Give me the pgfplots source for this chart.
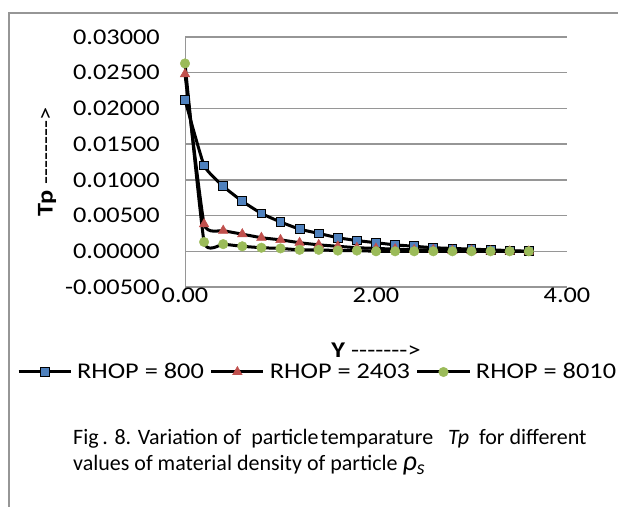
\documentclass[border=0pt]{standalone}
\usepackage{fontspec}
\setmainfont{Carlito}
\newfontfamily\chartfont{Carlito}[FakeStretch=1.17]
\usepackage{pgfplots}
\pgfplotsset{compat=1.18}

\definecolor{rhopblue}{RGB}{79,129,189}
\definecolor{rhopred}{RGB}{192,80,77}
\definecolor{rhopgreen}{RGB}{155,187,89}
\definecolor{gridgray}{RGB}{150,150,150}
\definecolor{framegray}{RGB}{150,150,150}

% typed arrows made of single hyphens (kerns keep them from becoming dashes)
\newcommand\hy{-\kern0pt}
\newcommand\yarrow{\hy\hy\hy\hy\hy\hy\hy>}
\newcommand\tparrow{\hy\hy\hy\hy\hy\hy\hy\hy>}

% Tp along Y for three particle densities
\pgfplotstableread{
Y     r800    r2403   r8010
0.0   0.0212  0.0248  0.0263
0.2   0.0120  0.0038  0.0013
0.4   0.0091  0.0029  0.0010
0.6   0.0070  0.0024  0.0007
0.8   0.0053  0.0019  0.0005
1.0   0.0041  0.0016  0.0004
1.2   0.0031  0.0012  0.0002
1.4   0.0025  0.0009  0.0002
1.6   0.0019  0.0007  0.0001
1.8   0.0015  0.0005  0.0001
2.0   0.0012  0.0004  0.0000
2.2   0.0009  0.0003  0.0000
2.4   0.0007  0.0002  0.0000
2.6   0.0005  0.0002  0.0000
2.8   0.0004  0.0001  0.0000
3.0   0.0003  0.0001  0.0000
3.2   0.0002  0.0000  0.0000
3.4   0.0001  0.0000  0.0000
3.6   0.0000  0.0000  0.0000
}\tpdata

\begin{document}
\begin{tikzpicture}[x=1pt,y=1pt]
\path[use as bounding box] (0,0) rectangle (618,506);
\draw[framegray, line width=1.2pt] (9,-2) -- (9,493) -- (625,493);
\begin{axis}[
  at={(185pt,219pt)}, anchor=south west,
  scale only axis, width=382pt, height=250pt,
  xmin=0, xmax=4, ymin=-0.005, ymax=0.03,
  clip=false,
  axis x line*=bottom, axis y line*=left,
  axis line style={gridgray, line width=1pt},
  ymajorgrids, grid style={gridgray, line width=1.4pt},
  tick style={draw=none},
  scaled ticks=false,
  xtick={0,2,4}, xticklabels={0.00,2.00,4.00},
  ytick={-0.005,0,0.005,0.01,0.015,0.02,0.025,0.03},
  yticklabels={-0.00500,0.00000,0.00500,0.01000,0.01500,0.02000,0.02500,0.03000},
  ticklabel style={font=\chartfont\fontsize{22.5}{27}\selectfont, inner sep=0pt},
  yticklabel style={anchor=east, xshift=-25pt},
  xticklabel style={anchor=north, yshift=-1pt},
  xlabel={\textbf{Y} \yarrow},
  xlabel style={font=\chartfont\fontsize{22.5}{27}\selectfont, inner sep=0pt,
    at={(axis description cs:0.5,-0.252)}, anchor=center},
  ylabel={\textbf{Tp} \tparrow},
  ylabel style={font=\chartfont\fontsize{22.5}{27}\selectfont, inner sep=0pt,
    at={(axis description cs:-0.361,0.50)}, anchor=center},
  legend columns=3,
  legend style={font=\chartfont\fontsize{22.5}{27}\selectfont,
    draw=none, fill=none, inner sep=0pt,
    at={(axis description cs:-0.44,-0.34)}, anchor=west,
    nodes={inner sep=0pt},
    /tikz/every odd column/.append style={column sep=5pt},
    /tikz/every even column/.append style={column sep=6pt}},
  legend image code/.code={
    \draw[mark repeat=2, mark phase=2] plot coordinates {(0pt,0pt) (26pt,0pt) (52pt,0pt)};},
  every axis plot/.append style={black, line width=3pt, smooth, tension=0.25},
]
\addplot[mark=square*, mark size=4.4pt,
  mark options={fill=rhopblue, draw=black, line width=1pt}] table[x=Y, y=r800] {\tpdata};
\addlegendentry{RHOP = 800}
\addplot[mark=triangle*, mark size=5.6pt,
  mark options={fill=rhopred, draw=rhopred, line width=0.4pt}] table[x=Y, y=r2403] {\tpdata};
\addlegendentry{RHOP = 2403}
\addplot[mark=*, mark size=4.8pt,
  mark options={fill=rhopgreen, draw=rhopgreen, line width=0.4pt}] table[x=Y, y=r8010] {\tpdata};
\addlegendentry{RHOP = 8010}
\end{axis}
\node[anchor=base west, inner sep=0pt, font=\fontsize{22}{26}\selectfont] at (73,62)
  {Fig\,. 8. Variation of\ \ particle\hspace{2pt}temparature\ \ \ \textit{Tp}\ \ for different};
\node[anchor=base west, inner sep=0pt, font=\fontsize{22}{26}\selectfont] at (73,36)
  {values of material density of particle \textit{\fontsize{28}{30}\selectfont ρ\raisebox{-4pt}{\fontsize{20}{24}\selectfont s}}};
\end{tikzpicture}
\end{document}
